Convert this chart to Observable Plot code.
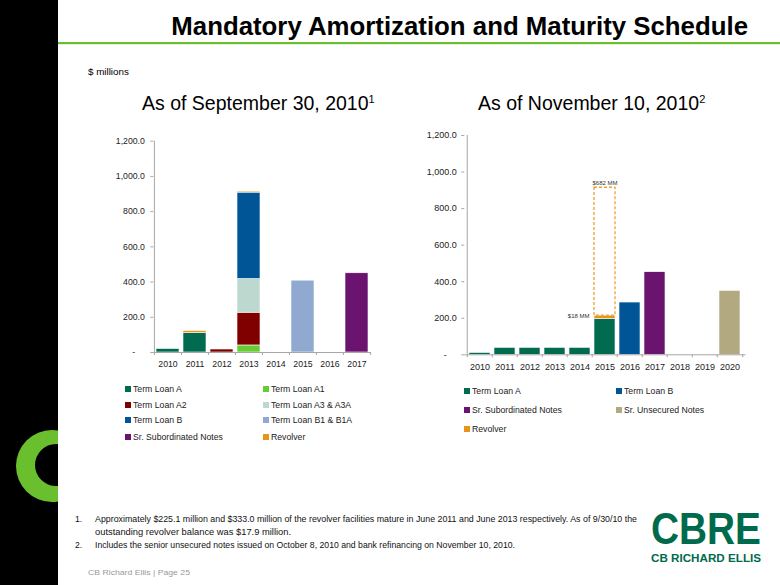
<!DOCTYPE html>
<html><head><meta charset="utf-8">
<script src="https://cdn.jsdelivr.net/npm/d3@7"></script>
<script src="https://cdn.jsdelivr.net/npm/@observablehq/plot@0.6"></script>
<style>
body{margin:0;background:#fff;font-family:Arial,"Liberation Sans",sans-serif;}
#page{position:relative;width:780px;height:585px;overflow:hidden;background:#fff;}
.abs{position:absolute;}
.leg{position:absolute;font-size:8.7px;color:#222;white-space:nowrap;line-height:10px;}
.leg i{display:inline-block;width:6px;height:6px;margin-right:2px;vertical-align:0px;}
</style></head><body><div id="page"></div>
<script>
// ---------- DATA ----------
const yTicks = [0, 200, 400, 600, 800, 1000, 1200];

// As of September 30, 2010
const sepYears = ["2010","2011","2012","2013","2014","2015","2016","2017"];
const sepSeries = ["Term Loan A","Term Loan A1","Term Loan A2","Term Loan A3 & A3A","Term Loan B","Term Loan B1 & B1A","Sr. Subordinated Notes","Revolver"];
const sepColors = ["#006b4f","#66cc33","#800000","#bdd8cf","#005596","#8fa9d0","#6a1470","#e8931c"];
const sepTermLoanA   = [20, 110, 0,   0, 0,   0, 0,   0];
const sepTermLoanA1  = [ 0,   0, 0,  40, 0,   0, 0,   0];
const sepTermLoanA2  = [ 0,   0, 17, 186, 0,  0, 0,   0];
const sepTermLoanA3  = [ 0,   0, 0, 191, 0,   0, 0,   0];
const sepTermLoanB   = [ 0,   0, 0, 491, 0,   0, 0,   0];
const sepTermLoanB1  = [ 0,   0, 0,   0, 0, 408, 0,   0];
const sepSrSub       = [ 0,   0, 0,   0, 0,   0, 0, 450];
const sepRevolver    = [ 0,  12, 0,   6, 0,   0, 0,   0];
const sepValues = [sepTermLoanA, sepTermLoanA1, sepTermLoanA2, sepTermLoanA3, sepTermLoanB, sepTermLoanB1, sepSrSub, sepRevolver];

// As of November 10, 2010
const novYears = ["2010","2011","2012","2013","2014","2015","2016","2017","2018","2019","2020"];
const novSeries = ["Term Loan A","Term Loan B","Sr. Subordinated Notes","Sr. Unsecured Notes","Revolver"];
const novColors = ["#006b4f","#005596","#6a1470","#b3a981","#e8931c"];
const novTermLoanA = [10, 38, 38, 38, 38, 196,   0,   0, 0, 0,   0];
const novTermLoanB = [ 0,  0,  0,  0,  0,   0, 286,   0, 0, 0,   0];
const novSrSub     = [ 0,  0,  0,  0,  0,   0,   0, 452, 0, 0,   0];
const novSrUnsec   = [ 0,  0,  0,  0,  0,   0,   0,   0, 0, 0, 350];
const novRevolver  = [ 0,  0,  0,  0,  0,  18,   0,   0, 0, 0,   0];
const novValues = [novTermLoanA, novTermLoanB, novSrSub, novSrUnsec, novRevolver];
// undrawn revolver (dashed box) and annotations
const undrawnYear = "2015";
const undrawnBase = 214;
const undrawnValue = 700;
const undrawnLabel = "$682 MM";
const drawnLabel = "$18 MM";

// ---------- TABLES ----------
function toTable(years, series, values){
  return series.flatMap((s,i)=>years.map((y,j)=>({year:y, series:s, value:values[i][j]}))).filter(d=>d.value>0);
}
const sepTable = toTable(sepYears, sepSeries, sepValues);
const novTable = toTable(novYears, novSeries, novValues);
const undrawnTable = [{year: undrawnYear, y1: undrawnBase, y2: undrawnBase + undrawnValue}];

const FONT = 'Arial, "Liberation Sans", sans-serif';
const AX = "#a6a6a6";
const fmt = d => d === 0 ? "-\u00a0\u00a0\u00a0\u00a0" : d3.format(",.1f")(d);

function chart({years, table, series, colors, width, height, ml, mr, mt, mb, fs, tp, xp, extra = []}){
  const step = (width - ml - mr) / years.length;
  const k = (height - mt - mb) / 1200;
  return Plot.plot({
    width, height, marginLeft: ml, marginRight: mr, marginTop: mt, marginBottom: mb,
    style: {fontFamily: FONT, fontSize: fs + "px", color: "#222", background: "transparent", overflow: "visible"},
    x: {type: "band", domain: years, paddingInner: 0.16, paddingOuter: 0.08, axis: null},
    y: {domain: [0, 1200], axis: null},
    color: {domain: series, range: colors},
    marks: [
      Plot.barY(table, {x: "year", y: "value", fill: "series", stroke: "white", strokeWidth: 0.6}),
      Plot.ruleY([0], {stroke: AX}),
      Plot.ruleX([years[0]], {dx: -step/2, y1: 0, y2: 1200, stroke: AX}),
      Plot.ruleX(years, {dx: -step/2, y1: 0, y2: -3/k, stroke: AX}),
      Plot.ruleX([years[years.length-1]], {dx: step/2, y1: 0, y2: -3/k, stroke: AX}),
      Plot.axisY({ticks: yTicks, tickFormat: fmt, tickSize: 3, tickPadding: tp, stroke: AX, fill: "#222", label: null}),
      Plot.axisX({tickSize: 0, tickPadding: xp, fill: "#222", label: null}),
      ...extra
    ]
  });
}

const page = document.getElementById("page");

// ---------- DECORATION ----------
const deco = d3.create("svg").attr("width", 780).attr("height", 585).attr("class","abs").style("left","0px").style("top","0px")
  .style("font-family", FONT);
deco.append("defs").append("clipPath").attr("id","sideclip").append("rect").attr("x",0).attr("y",0).attr("width",58).attr("height",585);
deco.append("rect").attr("x",0).attr("y",0).attr("width",58).attr("height",585).attr("fill","#000");
deco.append("path").attr("clip-path","url(#sideclip)").attr("fill","#6abf2e").attr("fill-rule","evenodd")
  .attr("d", "M16,466a36,36 0 1,0 72,0a36,36 0 1,0 -72,0Z M35,465a21,21 0 1,0 42,0a21,21 0 1,0 -42,0Z");
deco.append("rect").attr("x",58).attr("y",42).attr("width",722).attr("height",2.2).attr("fill","#6abf2e");
deco.append("text").attr("x",748).attr("y",34.5).attr("text-anchor","end").attr("font-weight","bold")
  .attr("font-size",25.8).attr("fill","#000").text("Mandatory Amortization and Maturity Schedule");
deco.append("text").attr("x",88).attr("y",74.5).attr("font-size",9.8).attr("fill","#000").text("$ millions");
const s1 = deco.append("text").attr("x",142).attr("y",110).attr("font-size",19.5).attr("fill","#000");
s1.append("tspan").text("As of September 30, 2010");
s1.append("tspan").attr("font-size",11).attr("dy",-7).text("1");
const s2 = deco.append("text").attr("x",478).attr("y",110).attr("font-size",19.5).attr("fill","#000");
s2.append("tspan").text("As of November 10, 2010");
s2.append("tspan").attr("font-size",11).attr("dy",-7).text("2");
// footnotes
const fn = [
  [75, 95, 522, "1.", "Approximately $225.1 million and $333.0 million of the revolver facilities mature in June 2011 and June 2013 respectively.  As of 9/30/10 the", 542],
  [null, 95, 534.5, "", "outstanding revolver balance was $17.9 million.", 196],
  [75, 95, 547.5, "2.", "Includes the senior unsecured notes issued on October 8, 2010 and bank refinancing on November 10, 2010.", 420]
];
fn.forEach(([nx, tx, y, n, t, w]) => {
  if (nx !== null) deco.append("text").attr("x",nx).attr("y",y).attr("font-size",8.6).attr("fill","#111").text(n);
  deco.append("text").attr("x",tx).attr("y",y).attr("font-size",8.6).attr("fill","#111")
    .attr("textLength", w).attr("lengthAdjust","spacingAndGlyphs").text(t);
});
deco.append("text").attr("x",88).attr("y",575).attr("font-size",8).attr("fill","#9a9a9a")
  .attr("textLength",102).attr("lengthAdjust","spacingAndGlyphs").text("CB Richard Ellis  |  Page 25");
// logo
deco.append("text").attr("x",651).attr("y",544).attr("font-size",44).attr("font-weight","bold").attr("fill","#006a4d")
  .attr("textLength",110).attr("lengthAdjust","spacingAndGlyphs").text("CBRE");
deco.append("text").attr("x",651).attr("y",562).attr("font-size",10.5).attr("font-weight","bold").attr("fill","#006a4d")
  .attr("textLength",110).attr("lengthAdjust","spacingAndGlyphs").text("CB RICHARD ELLIS");
page.appendChild(deco.node());

// ---------- CHARTS ----------
const c1 = chart({years: sepYears, table: sepTable, series: sepSeries, colors: sepColors,
  width: 300, height: 250, ml: 73.3, mr: 9, mt: 20.7, mb: 18, fs: 8.7, tp: 6, xp: 8});
c1.classList.add("abs"); c1.style.left = "80px"; c1.style.top = "120px";
page.appendChild(c1);

const c2 = chart({years: novYears, table: novTable, series: novSeries, colors: novColors,
  width: 340, height: 260, ml: 44.3, mr: 14.6, mt: 20, mb: 20.7, fs: 9, tp: 5, xp: 9,
  extra: [
    Plot.barY(undrawnTable, {x: "year", y1: "y1", y2: "y2", fill: "none", stroke: "#f0a030", strokeWidth: 1.3, strokeDasharray: "3,2"}),
    Plot.text(undrawnTable, {x: "year", y: "y2", text: () => undrawnLabel, dy: -5, fontSize: 6, fill: "#333"}),
    Plot.text(undrawnTable, {x: "year", y: "y1", text: () => drawnLabel, dx: -15.5, dy: 0, textAnchor: "end", fontSize: 6, fill: "#333"})
  ]});
c2.classList.add("abs"); c2.style.left = "420px"; c2.style.top = "115px";
page.appendChild(c2);

// ---------- LEGENDS ----------
function legend(items, colors, positions){
  items.forEach((name, i) => {
    const [x, y] = positions[i];
    const d = document.createElement("div");
    d.className = "leg";
    d.style.left = x + "px"; d.style.top = (y - 5) + "px";
    const sw = document.createElement("i"); sw.style.background = colors[i];
    d.appendChild(sw); d.appendChild(document.createTextNode(name));
    page.appendChild(d);
  });
}
const lrows = [389, 404.7, 420.3, 436.5];
legend(sepSeries, sepColors, [
  [125, lrows[0]], [263, lrows[0]],
  [125, lrows[1]], [263, lrows[1]],
  [125, lrows[2]], [263, lrows[2]],
  [125, lrows[3]], [263, lrows[3]]
]);
const rrows = [391, 410, 428.5];
legend(novSeries, novColors, [
  [464, rrows[0]], [616, rrows[0]],
  [464, rrows[1]], [616, rrows[1]],
  [464, rrows[2]]
]);
</script></body></html>
